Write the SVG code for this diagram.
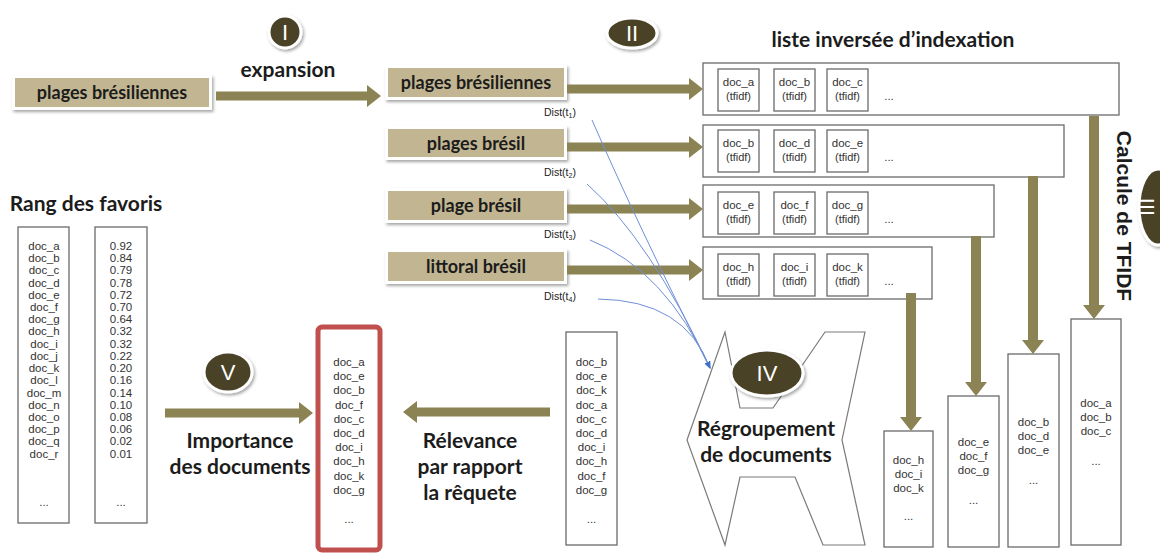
<svg xmlns="http://www.w3.org/2000/svg" width="1160" height="558" viewBox="0 0 1160 558">
<defs>
<filter id="sh" x="-20%" y="-30%" width="140%" height="160%"><feDropShadow dx="1.5" dy="2" stdDeviation="1.8" flood-color="#000" flood-opacity="0.35"/></filter>
<marker id="bh" viewBox="0 0 10 10" refX="9" refY="5" markerWidth="7" markerHeight="7" orient="auto" markerUnits="userSpaceOnUse"><path d="M0,1 L10,5 L0,9 z" fill="#3e6fc9"/></marker>
<style>
.qbox rect.o{fill:#fff;filter:url(#sh)}
.qbox rect.i{fill:#c2b692}
.lbl{font-family:Lato,"Liberation Sans",sans-serif;font-weight:bold;font-size:21px;fill:#1c1c1c;text-anchor:middle}
.ql{font-family:Lato,"Liberation Sans",sans-serif;font-weight:bold;font-size:18px;fill:#1c1c1c;text-anchor:middle}
.doc{font-family:"Liberation Sans",Arial,sans-serif;font-size:11.5px;fill:#333;text-anchor:middle}
.sm{font-family:"Liberation Sans",Arial,sans-serif;font-size:11px;fill:#333;text-anchor:middle}
.dist{font-family:"Liberation Sans",Arial,sans-serif;font-size:10.5px;fill:#222}
.box{fill:#fff;stroke:#6a6a6a;stroke-width:1.3}
.arr{fill:#8b8353}
.num{fill:#4a4327;stroke:#fff;stroke-width:3;filter:url(#sh)}
.rn{font-family:"Liberation Sans",Arial,sans-serif;font-size:22px;fill:#fff;text-anchor:middle}
.blue{fill:none;stroke:#6f8fd6;stroke-width:1}
</style>
</defs>
<rect width="1160" height="558" fill="#fff"/>

<!-- query boxes -->
<g id="q0" class="qbox"><rect class="o" x="12" y="75" width="200" height="35"/><rect class="i" x="15" y="78" width="194" height="29"/><text class="ql" x="112" y="99">plages brésiliennes</text></g>
<g id="q1" class="qbox"><rect class="o" x="385" y="65" width="182" height="35"/><rect class="i" x="388" y="68" width="176" height="29"/><text class="ql" x="476" y="89">plages brésiliennes</text></g>
<g id="q2" class="qbox"><rect class="o" x="385" y="126" width="182" height="34"/><rect class="i" x="388" y="129" width="176" height="28"/><text class="ql" x="476" y="150">plages brésil</text></g>
<g id="q3" class="qbox"><rect class="o" x="385" y="188" width="182" height="35"/><rect class="i" x="388" y="191" width="176" height="29"/><text class="ql" x="476" y="212">plage brésil</text></g>
<g id="q4" class="qbox"><rect class="o" x="385" y="249" width="182" height="35"/><rect class="i" x="388" y="252" width="176" height="29"/><text class="ql" x="476" y="273">littoral brésil</text></g>

<!-- step markers -->
<g id="stepI"><circle class="num" cx="285" cy="32" r="16"/><text class="rn" x="285" y="40">I</text></g>
<g id="stepII"><ellipse class="num" cx="632" cy="33" rx="25" ry="15"/><text class="rn" x="632" y="41">II</text></g>
<g id="stepIII"><ellipse class="num" cx="1158" cy="207" rx="19" ry="38"/><text class="rn" transform="translate(1139,207) rotate(90)" x="0" y="0" font-size="20">III</text></g>
<g id="stepV"><ellipse class="num" cx="228" cy="372" rx="24" ry="20"/><text class="rn" x="228" y="380">V</text></g>

<!-- labels -->
<g id="labels">
<text class="lbl" x="288" y="77">expansion</text>
<text class="lbl" x="893" y="47">liste inversée d’indexation</text>
<text class="lbl" x="86" y="211">Rang des favoris</text>
<text class="lbl" x="240" y="448" font-size="20">Importance</text>
<text class="lbl" x="240" y="474" font-size="20">des documents</text>
<text class="lbl" x="470" y="448" font-size="20.5">Rélevance</text>
<text class="lbl" x="470" y="474" font-size="20.5">par rapport</text>
<text class="lbl" x="470" y="500" font-size="20.5">la rêquete</text>
<text class="lbl" transform="translate(1117,216) rotate(90)" x="0" y="0" font-size="16.8" style="font-family:'Liberation Sans',Arial,sans-serif">Calcule de TFIDF</text>
</g>

<!-- inverted lists -->
<g id="list1"><rect class="box" x="703" y="63" width="416" height="52"/>
<rect class="box" x="718" y="69" width="41" height="42"/><rect class="box" x="774" y="69" width="41" height="42"/><rect class="box" x="827" y="69" width="41" height="42"/>
<text class="doc" x="738.5" y="86">doc_a</text><text class="sm" x="738.5" y="100">(tfidf)</text>
<text class="doc" x="794.5" y="86">doc_b</text><text class="sm" x="794.5" y="100">(tfidf)</text>
<text class="doc" x="847.5" y="86">doc_c</text><text class="sm" x="847.5" y="100">(tfidf)</text>
<text class="doc" x="889" y="100">...</text></g>
<g id="list2"><rect class="box" x="703" y="125" width="361" height="52"/>
<rect class="box" x="718" y="130" width="41" height="42"/><rect class="box" x="774" y="130" width="41" height="42"/><rect class="box" x="827" y="130" width="41" height="42"/>
<text class="doc" x="738.5" y="147">doc_b</text><text class="sm" x="738.5" y="161">(tfidf)</text>
<text class="doc" x="794.5" y="147">doc_d</text><text class="sm" x="794.5" y="161">(tfidf)</text>
<text class="doc" x="847.5" y="147">doc_e</text><text class="sm" x="847.5" y="161">(tfidf)</text>
<text class="doc" x="889" y="161">...</text></g>
<g id="list3"><rect class="box" x="703" y="185" width="291" height="52"/>
<rect class="box" x="718" y="192" width="41" height="42"/><rect class="box" x="774" y="192" width="41" height="42"/><rect class="box" x="827" y="192" width="41" height="42"/>
<text class="doc" x="738.5" y="209">doc_e</text><text class="sm" x="738.5" y="223">(tfidf)</text>
<text class="doc" x="794.5" y="209">doc_f</text><text class="sm" x="794.5" y="223">(tfidf)</text>
<text class="doc" x="847.5" y="209">doc_g</text><text class="sm" x="847.5" y="223">(tfidf)</text>
<text class="doc" x="889" y="223">...</text></g>
<g id="list4"><rect class="box" x="703" y="247" width="229" height="52"/>
<rect class="box" x="718" y="254" width="41" height="42"/><rect class="box" x="774" y="254" width="41" height="42"/><rect class="box" x="827" y="254" width="41" height="42"/>
<text class="doc" x="738.5" y="271">doc_h</text><text class="sm" x="738.5" y="285">(tfidf)</text>
<text class="doc" x="794.5" y="271">doc_i</text><text class="sm" x="794.5" y="285">(tfidf)</text>
<text class="doc" x="847.5" y="271">doc_k</text><text class="sm" x="847.5" y="285">(tfidf)</text>
<text class="doc" x="889" y="285">...</text></g>

<!-- result columns -->
<g id="col4"><rect class="box" x="884" y="431" width="49" height="116"/>
<text class="doc" x="908.5" y="464">doc_h</text><text class="doc" x="908.5" y="478">doc_i</text><text class="doc" x="908.5" y="492">doc_k</text><text class="doc" x="908.5" y="520">...</text></g>
<g id="col3"><rect class="box" x="948" y="396" width="51" height="151"/>
<text class="doc" x="973.5" y="446">doc_e</text><text class="doc" x="973.5" y="460">doc_f</text><text class="doc" x="973.5" y="474">doc_g</text><text class="doc" x="973.5" y="504">...</text></g>
<g id="col2"><rect class="box" x="1008" y="354" width="51" height="193"/>
<text class="doc" x="1033.5" y="426">doc_b</text><text class="doc" x="1033.5" y="440">doc_d</text><text class="doc" x="1033.5" y="454">doc_e</text><text class="doc" x="1033.5" y="484">...</text></g>
<g id="col1"><rect class="box" x="1071" y="319" width="50" height="226"/>
<text class="doc" x="1096" y="407">doc_a</text><text class="doc" x="1096" y="421">doc_b</text><text class="doc" x="1096" y="435">doc_c</text><text class="doc" x="1096" y="465">...</text></g>

<!-- grouping shape -->
<g id="stepIV">
<path d="M725,332 L740,408 L773,408 L825,332 L865,332 L842,440 L865,545 L823,545 L795,477 L740,477 L725,545 L687,440 Z" fill="#fff" stroke="#7a7a7a" stroke-width="1.2"/>
<ellipse class="num" cx="767" cy="373" rx="36" ry="23"/><text class="rn" x="767" y="381">IV</text>
<text class="lbl" x="766" y="436" font-size="22">Régroupement</text>
<text class="lbl" x="766" y="462" font-size="22">de documents</text>
</g>

<!-- merged list -->
<g id="merged"><rect class="box" x="566" y="332" width="51" height="213"/>
<text class="doc" x="591.5" y="366">doc_b</text><text class="doc" x="591.5" y="380">doc_e</text><text class="doc" x="591.5" y="394">doc_k</text><text class="doc" x="591.5" y="409">doc_a</text><text class="doc" x="591.5" y="423">doc_c</text><text class="doc" x="591.5" y="437">doc_d</text><text class="doc" x="591.5" y="451">doc_i</text><text class="doc" x="591.5" y="465">doc_h</text><text class="doc" x="591.5" y="480">doc_f</text><text class="doc" x="591.5" y="494">doc_g</text><text class="doc" x="591.5" y="523">...</text></g>

<!-- final list -->
<g id="final"><rect x="318" y="327" width="62" height="223" rx="4" fill="#fff" stroke="#c0504d" stroke-width="5"/>
<text class="doc" x="349" y="366">doc_a</text><text class="doc" x="349" y="380">doc_e</text><text class="doc" x="349" y="394">doc_b</text><text class="doc" x="349" y="409">doc_f</text><text class="doc" x="349" y="423">doc_c</text><text class="doc" x="349" y="437">doc_d</text><text class="doc" x="349" y="451">doc_i</text><text class="doc" x="349" y="465">doc_h</text><text class="doc" x="349" y="480">doc_k</text><text class="doc" x="349" y="494">doc_g</text><text class="doc" x="349" y="523">...</text></g>

<!-- favourites rank -->
<g id="rankDocs"><rect class="box" x="18" y="227" width="51" height="296"/>
<g class="doc"><text x="44" y="250">doc_a</text><text x="44" y="262">doc_b</text><text x="44" y="274">doc_c</text><text x="44" y="287">doc_d</text><text x="44" y="299">doc_e</text><text x="44" y="311">doc_f</text><text x="44" y="323">doc_g</text><text x="44" y="335">doc_h</text><text x="44" y="348">doc_i</text><text x="44" y="360">doc_j</text><text x="44" y="372">doc_k</text><text x="44" y="384">doc_l</text><text x="44" y="397">doc_m</text><text x="44" y="409">doc_n</text><text x="44" y="421">doc_o</text><text x="44" y="433">doc_p</text><text x="44" y="445">doc_q</text><text x="44" y="458">doc_r</text><text x="44" y="506">...</text></g></g>
<g id="rankScores"><rect class="box" x="95" y="227" width="52" height="296"/>
<g class="doc"><text x="121" y="250">0.92</text><text x="121" y="262">0.84</text><text x="121" y="274">0.79</text><text x="121" y="287">0.78</text><text x="121" y="299">0.72</text><text x="121" y="311">0.70</text><text x="121" y="323">0.64</text><text x="121" y="335">0.32</text><text x="121" y="348">0.32</text><text x="121" y="360">0.22</text><text x="121" y="372">0.20</text><text x="121" y="384">0.16</text><text x="121" y="397">0.14</text><text x="121" y="409">0.10</text><text x="121" y="421">0.08</text><text x="121" y="433">0.06</text><text x="121" y="445">0.02</text><text x="121" y="458">0.01</text><text x="121" y="506">...</text></g></g>

<!-- connectors -->
<g id="connectors">
<polygon class="arr" points="216,91.5 367,91.5 367,85 381,96 367,107 367,100.5 216,100.5"/>
<polygon class="arr" points="567,84.5 689,84.5 689,78 703,89 689,100 689,93.5 567,93.5"/>
<polygon class="arr" points="567,142.5 689,142.5 689,136 703,147 689,158 689,151.5 567,151.5"/>
<polygon class="arr" points="567,204.5 689,204.5 689,198 703,209 689,220 689,213.5 567,213.5"/>
<polygon class="arr" points="567,265.5 689,265.5 689,259 703,270 689,281 689,274.5 567,274.5"/>
<polygon class="arr" points="165,408.5 299,408.5 299,402 313,413 299,424 299,417.5 165,417.5"/>
<polygon class="arr" points="550,407.5 417,407.5 417,401 403,412 417,423 417,416.5 550,416.5"/>
<polygon class="arr" points="1089,116 1099,116 1099,305 1105,305 1094,319 1083,305 1089,305"/>
<polygon class="arr" points="1028,176 1038,176 1038,340 1044,340 1033,354 1022,340 1028,340"/>
<polygon class="arr" points="971,236 981,236 981,382 987,382 976,396 965,382 971,382"/>
<polygon class="arr" points="906,293 916,293 916,417 922,417 911,431 900,417 906,417"/>
<path class="blue" d="M592,120 Q640,230 710,368" marker-end="url(#bh)"/>
<path class="blue" d="M587,184 Q650,240 710,368" marker-end="url(#bh)"/>
<path class="blue" d="M590,240 Q665,270 710,368" marker-end="url(#bh)"/>
<path class="blue" d="M598,299 Q685,300 710,368" marker-end="url(#bh)"/>
<text class="dist" x="544" y="116">Dist(t<tspan font-size="7" dy="2">1</tspan><tspan dy="-2">)</tspan></text>
<text class="dist" x="544" y="176">Dist(t<tspan font-size="7" dy="2">2</tspan><tspan dy="-2">)</tspan></text>
<text class="dist" x="544" y="238">Dist(t<tspan font-size="7" dy="2">3</tspan><tspan dy="-2">)</tspan></text>
<text class="dist" x="544" y="300">Dist(t<tspan font-size="7" dy="2">4</tspan><tspan dy="-2">)</tspan></text>
</g>
</svg>
